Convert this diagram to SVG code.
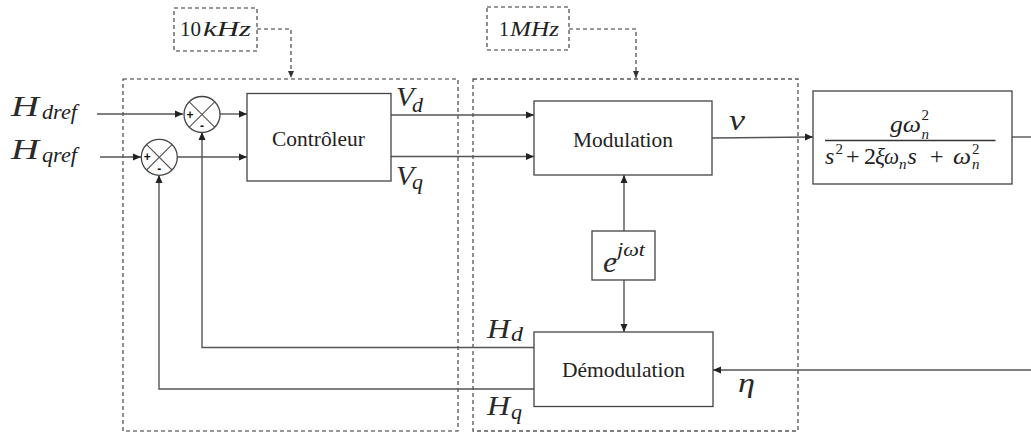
<svg xmlns="http://www.w3.org/2000/svg" width="1031" height="432" viewBox="0 0 1031 432">
<defs>
<marker id="arr" markerUnits="userSpaceOnUse" markerWidth="9" markerHeight="8" refX="8" refY="4" orient="auto">
<path d="M0,0.5 L8,4 L0,7.5 Z" fill="#222"/>
</marker>
<marker id="arrs" markerUnits="userSpaceOnUse" markerWidth="8" markerHeight="7" refX="7" refY="3.5" orient="auto">
<path d="M0,0.5 L7,3.5 L0,6.5 Z" fill="#333"/>
</marker>
</defs>
<style>
.bg{fill:#fff}
.box{fill:#fff;stroke:#444;stroke-width:1.3}
.dash{fill:none;stroke:#333;stroke-width:1.1;stroke-dasharray:4 3}
.dash2{fill:none;stroke:#555;stroke-width:1.3;stroke-dasharray:4 3}
.ln{fill:none;stroke:#555;stroke-width:1.4}
.sum{fill:#fff;stroke:#444;stroke-width:1.3}
.x{stroke:#555;stroke-width:1.1}
text.rm{font-family:'Liberation Serif','Times New Roman','DejaVu Serif','Noto Serif',serif;font-style:normal;fill:#222}
text.it{font-family:'Liberation Serif','Times New Roman','DejaVu Serif','Noto Serif',serif;font-style:italic;fill:#222}
text.big{fill:#2a2a2a}
text.sg{font-family:'Liberation Sans','DejaVu Sans',sans-serif;font-weight:bold;font-size:12px;fill:#111}
</style>
<rect class="bg" x="0" y="0" width="1031" height="432"/>

<g id="zone-10khz">
<rect class="dash" x="123" y="79" width="335" height="352"/>
</g>
<g id="zone-1mhz">
<rect class="dash2" x="473" y="79" width="325" height="352"/>
</g>

<g id="clk-10khz">
<rect class="dash" x="174" y="8" width="83" height="43"/>
<text class="rm" x="180" y="36" font-size="20" textLength="21" lengthAdjust="spacingAndGlyphs">10</text>
<text class="it" x="203" y="36" font-size="20" textLength="48" lengthAdjust="spacingAndGlyphs">kHz</text>
</g>
<g id="clk-1mhz">
<rect class="dash" x="487" y="7" width="82" height="43"/>
<text class="rm" x="499" y="36" font-size="20" textLength="10" lengthAdjust="spacingAndGlyphs">1</text>
<text class="it" x="510" y="36" font-size="20" textLength="49" lengthAdjust="spacingAndGlyphs">MHz</text>
</g>

<g id="connectors">
<path class="dash" d="M257,29 H291 V78" marker-end="url(#arrs)"/>
<path class="dash" d="M569,29 H636 V78" marker-end="url(#arrs)"/>
<path class="ln" d="M97,114 H183" marker-end="url(#arr)"/>
<path class="ln" d="M100,157 H141" marker-end="url(#arr)"/>
<path class="ln" d="M220,114 H247" marker-end="url(#arr)"/>
<path class="ln" d="M177,157 H247" marker-end="url(#arr)"/>
<path class="ln" d="M391,115 H534" marker-end="url(#arr)"/>
<path class="ln" d="M391,156.5 H534" marker-end="url(#arr)"/>
<path class="ln" d="M712,138 L813,137" marker-end="url(#arr)"/>
<path class="ln" d="M1012,137 H1031"/>
<path class="ln" d="M1031,370 H713" marker-end="url(#arr)"/>
<path class="ln" d="M624,231 V175" marker-end="url(#arr)"/>
<path class="ln" d="M624,280 V332" marker-end="url(#arr)"/>
<path class="ln" d="M534,347.5 H202 V132" marker-end="url(#arr)"/>
<path class="ln" d="M534,389 H159 V175" marker-end="url(#arr)"/>
</g>

<g id="sum-d">
<circle class="sum" cx="202" cy="114.5" r="18"/>
<line class="x" x1="189.3" y1="101.8" x2="214.7" y2="127.2"/>
<line class="x" x1="214.7" y1="101.8" x2="189.3" y2="127.2"/>
<text class="sg" x="190" y="118.5" text-anchor="middle">+</text>
<text class="sg" x="202" y="130" text-anchor="middle">-</text>
</g>
<g id="sum-q">
<circle class="sum" cx="159.3" cy="157.3" r="18"/>
<line class="x" x1="146.6" y1="144.6" x2="172" y2="170"/>
<line class="x" x1="172" y1="144.6" x2="146.6" y2="170"/>
<text class="sg" x="147.3" y="161.3" text-anchor="middle">+</text>
<text class="sg" x="159.3" y="173" text-anchor="middle">-</text>
</g>

<g id="controleur">
<rect class="box" x="247" y="93.5" width="144" height="87.5"/>
<text class="rm" x="318.5" y="146" font-size="21.5" text-anchor="middle" textLength="93" lengthAdjust="spacingAndGlyphs">Contrôleur</text>
</g>
<g id="modulation">
<rect class="box" x="534" y="101" width="178" height="74"/>
<text class="rm" x="623" y="146.5" font-size="21.5" text-anchor="middle" textLength="100" lengthAdjust="spacingAndGlyphs">Modulation</text>
</g>
<g id="exp">
<rect class="box" x="592" y="231" width="63" height="49"/>
<text class="it big" x="603" y="272" font-size="30" textLength="14" lengthAdjust="spacingAndGlyphs">e</text>
<text class="it" x="617" y="256" font-size="19" textLength="28" lengthAdjust="spacingAndGlyphs">jωt</text>
</g>
<g id="demodulation">
<rect class="box" x="534" y="332" width="179" height="74.5"/>
<text class="rm" x="623.5" y="376.5" font-size="21.5" text-anchor="middle" textLength="123" lengthAdjust="spacingAndGlyphs">Démodulation</text>
</g>
<g id="plant">
<rect class="box" x="813" y="91" width="199" height="93"/>
<line x1="825" y1="140.5" x2="995.5" y2="140.5" stroke="#333" stroke-width="1.4"/>
<text class="it" x="890" y="132" font-size="24" textLength="31" lengthAdjust="spacingAndGlyphs">gω</text>
<text class="rm" x="921.5" y="120" font-size="15">2</text>
<text class="it" x="921.5" y="138.5" font-size="15">n</text>
<text class="it" x="825" y="164" font-size="24">s</text>
<text class="rm" x="835.5" y="154" font-size="15">2</text>
<text class="rm" x="846" y="164" font-size="24">+</text>
<text class="rm" x="864" y="164" font-size="24">2</text>
<text class="it" x="875" y="164" font-size="24" textLength="10" lengthAdjust="spacingAndGlyphs">ξ</text>
<text class="it" x="884" y="164" font-size="24" textLength="15" lengthAdjust="spacingAndGlyphs">ω</text>
<text class="it" x="899" y="169" font-size="15">n</text>
<text class="it" x="907.5" y="164" font-size="24">s</text>
<text class="rm" x="930" y="164" font-size="24">+</text>
<text class="it" x="953" y="164" font-size="24" textLength="18" lengthAdjust="spacingAndGlyphs">ω</text>
<text class="rm" x="972" y="154" font-size="15">2</text>
<text class="it" x="972" y="169" font-size="15">n</text>
</g>

<g id="labels">
<text class="it big" x="11" y="116" font-size="29" textLength="28" lengthAdjust="spacingAndGlyphs">H</text>
<text class="it" x="42" y="119" font-size="20" textLength="35" lengthAdjust="spacingAndGlyphs">dref</text>
<text class="it big" x="11" y="159" font-size="29" textLength="28" lengthAdjust="spacingAndGlyphs">H</text>
<text class="it" x="42" y="162" font-size="20" textLength="35" lengthAdjust="spacingAndGlyphs">qref</text>
<text class="it big" x="396" y="106" font-size="28" textLength="18" lengthAdjust="spacingAndGlyphs">V</text>
<text class="it" x="412" y="111.5" font-size="20" textLength="11" lengthAdjust="spacingAndGlyphs">d</text>
<text class="it big" x="396" y="185" font-size="28" textLength="18" lengthAdjust="spacingAndGlyphs">V</text>
<text class="it" x="412" y="189" font-size="20" textLength="11" lengthAdjust="spacingAndGlyphs">q</text>
<text class="it big" x="487" y="338" font-size="28" textLength="23" lengthAdjust="spacingAndGlyphs">H</text>
<text class="it" x="511" y="341" font-size="20" textLength="12" lengthAdjust="spacingAndGlyphs">d</text>
<text class="it big" x="487" y="415" font-size="28" textLength="23" lengthAdjust="spacingAndGlyphs">H</text>
<text class="it" x="511" y="419" font-size="20" textLength="11" lengthAdjust="spacingAndGlyphs">q</text>
<text class="it big" x="729" y="129.5" font-size="30" textLength="16" lengthAdjust="spacingAndGlyphs">v</text>
<text class="it big" x="738" y="392" font-size="28" textLength="17" lengthAdjust="spacingAndGlyphs">η</text>
</g>
</svg>
